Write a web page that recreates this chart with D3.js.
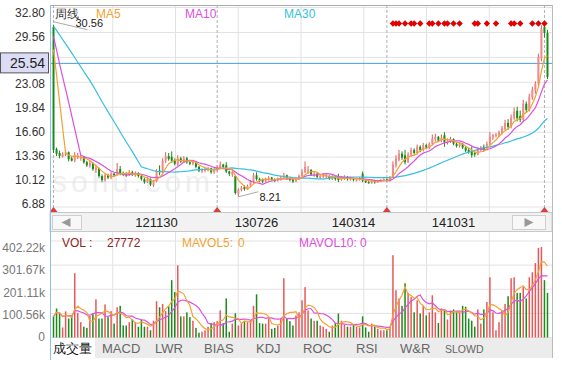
<!DOCTYPE html>
<html>
<head>
<meta charset="utf-8">
<script src="https://cdn.jsdelivr.net/npm/d3@7"></script>
<style>
  body { margin: 0; background: #fff; }
  svg text { font-family: Arial, "Liberation Sans", sans-serif; }
</style>
</head>
<body>
<svg id="chart" width="562" height="365"></svg>
<script>
/* 周线 K 线 + 成交量（MA5 / MA10 / MA30，MAVOL5 / MAVOL10） */

// 可见区之前的收盘价（只用来算均线）
const preClose = [30.8, 31.2, 31.6, 31.0, 30.4, 30.9, 31.5, 32.0, 31.4, 30.7,
  30.2, 30.6, 31.1, 31.8, 32.3, 31.7, 31.0, 30.5, 30.1, 30.6,
  31.2, 31.5, 30.9, 30.3, 29.8, 30.2, 30.7, 31.0, 30.4];

const open = [30.30, 14.40, 13.90, 13.40, 13.70, 14.00, 13.20, 12.90, 13.40, 13.20,
  13.40, 12.70, 12.20, 12.60, 11.70, 11.90, 10.90, 10.40, 11.00, 10.70,
  11.20, 11.00, 11.80, 11.20, 11.10, 11.00, 11.40, 11.00, 11.30, 10.90,
  10.50, 10.10, 10.50, 9.70, 10.20, 11.60, 11.40, 12.90, 13.50, 13.40,
  12.90, 12.40, 13.20, 12.80, 13.20, 12.70, 12.50, 12.60, 12.10, 11.50,
  11.60, 11.70, 11.90, 11.40, 11.60, 11.90, 12.40, 12.30, 11.50, 11.10,
  10.90, 8.60, 9.10, 9.50, 9.20, 9.60, 10.20, 11.00, 10.50, 10.40,
  10.20, 10.40, 10.70, 10.40, 10.30, 10.50, 10.60, 11.00, 10.60, 10.40,
  10.20, 10.50, 10.90, 11.40, 11.50, 11.70, 11.00, 11.20, 10.70, 10.80,
  10.80, 10.90, 10.50, 10.80, 10.80, 10.40, 10.60, 10.80, 10.40, 10.60,
  10.30, 10.40, 11.20, 10.30, 10.10, 10.00, 10.30, 10.10, 10.20, 10.30,
  10.50, 10.30, 10.80, 12.30, 13.00, 13.80, 13.60, 12.70, 13.70, 14.30,
  13.90, 14.70, 14.30, 14.90, 14.60, 15.10, 15.70, 16.00, 15.50, 16.20,
  15.20, 15.40, 15.70, 15.10, 14.80, 15.10, 14.60, 14.30, 14.20, 13.90,
  13.70, 14.30, 14.70, 14.30, 15.00, 15.90, 16.10, 16.20, 16.50, 17.00,
  17.80, 17.30, 18.40, 19.40, 18.70, 18.20, 20.30, 19.50, 21.10, 22.00,
  22.90, 26.20, 30.30, 29.50];

const high = [30.56, 14.60, 14.20, 14.00, 14.30, 14.10, 13.50, 14.00, 13.90, 13.60,
  13.50, 12.90, 12.90, 12.70, 12.40, 12.00, 11.10, 11.30, 11.20, 11.50,
  11.30, 12.60, 12.20, 11.50, 11.40, 11.70, 11.60, 11.50, 11.40, 11.10,
  10.70, 10.80, 10.60, 10.40, 11.80, 12.30, 13.20, 14.00, 13.90, 14.10,
  13.20, 13.60, 13.40, 13.50, 13.40, 13.00, 13.00, 12.70, 12.20, 11.90,
  12.00, 12.10, 12.00, 11.90, 12.30, 12.80, 12.50, 12.70, 11.60, 11.60,
  11.00, 9.30, 9.60, 9.70, 9.80, 10.40, 11.30, 11.40, 10.70, 10.60,
  10.70, 10.90, 10.80, 10.60, 10.70, 10.90, 11.30, 11.10, 10.80, 10.60,
  10.70, 11.10, 11.80, 12.80, 12.20, 11.80, 11.50, 11.30, 11.10, 11.20,
  11.10, 11.00, 11.00, 10.90, 11.20, 10.90, 11.00, 10.90, 10.80, 10.70,
  10.70, 10.80, 11.50, 10.50, 10.30, 10.50, 10.40, 10.40, 10.50, 10.60,
  10.60, 10.90, 12.80, 13.60, 14.30, 14.10, 14.30, 14.00, 14.60, 14.50,
  15.00, 14.90, 15.20, 15.10, 15.30, 16.30, 16.40, 16.10, 16.30, 16.60,
  15.80, 16.00, 15.80, 15.30, 15.30, 15.20, 14.80, 14.60, 14.70, 14.10,
  14.60, 14.80, 15.00, 15.40, 16.60, 16.40, 16.50, 16.80, 17.40, 18.20,
  18.30, 18.90, 19.80, 19.90, 19.40, 20.80, 20.60, 21.60, 22.50, 23.20,
  26.80, 30.50, 30.40, 29.90];

const low = [13.90, 13.50, 13.20, 13.30, 13.50, 12.80, 12.80, 12.70, 13.10, 12.90,
  12.50, 12.10, 12.00, 11.60, 11.30, 10.70, 10.10, 10.20, 10.50, 10.50,
  10.80, 10.90, 11.00, 10.90, 10.80, 10.90, 10.90, 10.80, 10.70, 10.30,
  9.90, 10.00, 9.60, 9.50, 10.10, 11.00, 11.30, 12.60, 12.90, 12.60,
  12.30, 12.20, 12.60, 12.60, 12.50, 12.30, 12.30, 11.90, 11.40, 11.30,
  11.40, 11.50, 11.20, 11.20, 11.50, 11.80, 11.90, 11.30, 10.90, 10.80,
  8.50, 8.21, 8.90, 9.00, 9.10, 9.50, 10.00, 10.30, 10.10, 10.00,
  10.10, 10.30, 10.30, 10.10, 10.20, 10.30, 10.50, 10.40, 10.20, 10.00,
  10.10, 10.40, 10.80, 11.30, 11.20, 10.90, 10.80, 10.60, 10.50, 10.60,
  10.50, 10.40, 10.40, 10.30, 10.10, 10.30, 10.40, 10.30, 10.30, 10.20,
  10.20, 10.30, 10.10, 10.00, 9.90, 9.90, 9.90, 10.00, 10.10, 10.20,
  10.20, 10.20, 10.70, 12.00, 12.80, 13.00, 12.40, 12.60, 13.40, 13.70,
  13.70, 14.00, 14.10, 14.40, 14.40, 14.90, 15.40, 15.30, 15.30, 14.70,
  15.00, 15.20, 14.90, 14.60, 14.60, 14.40, 14.00, 13.80, 13.30, 13.40,
  13.60, 14.10, 14.10, 14.20, 14.90, 15.60, 15.90, 16.00, 16.30, 16.80,
  16.90, 17.10, 18.20, 18.00, 17.90, 18.00, 19.10, 19.30, 20.80, 21.60,
  22.70, 25.80, 28.90, 23.50];

const close = [14.30, 13.80, 13.50, 13.80, 14.00, 13.10, 12.90, 13.60, 13.60, 13.40,
  12.70, 12.30, 12.60, 11.80, 12.00, 10.90, 10.40, 11.00, 10.70, 11.20,
  11.00, 11.80, 11.20, 11.10, 11.00, 11.40, 11.10, 11.30, 10.90, 10.50,
  10.10, 10.50, 9.80, 10.20, 11.60, 11.40, 12.90, 13.50, 13.10, 12.90,
  12.50, 13.20, 12.80, 13.20, 12.70, 12.50, 12.80, 12.10, 11.60, 11.70,
  11.80, 11.90, 11.40, 11.70, 12.00, 12.40, 12.10, 11.50, 11.20, 11.40,
  8.70, 9.10, 9.40, 9.20, 9.60, 10.20, 11.00, 10.50, 10.30, 10.20,
  10.50, 10.70, 10.40, 10.30, 10.60, 10.70, 11.00, 10.60, 10.40, 10.20,
  10.60, 10.90, 11.50, 12.10, 11.70, 11.10, 11.20, 10.80, 10.90, 11.00,
  10.90, 10.60, 10.80, 10.50, 10.40, 10.70, 10.80, 10.50, 10.60, 10.40,
  10.50, 10.60, 10.30, 10.10, 10.00, 10.30, 10.10, 10.30, 10.40, 10.50,
  10.30, 10.80, 12.40, 13.20, 13.80, 13.30, 12.70, 13.70, 14.30, 13.90,
  14.70, 14.30, 14.90, 14.60, 15.10, 15.80, 16.00, 15.50, 15.90, 15.30,
  15.50, 15.70, 15.10, 14.80, 15.10, 14.60, 14.20, 14.00, 13.60, 13.70,
  14.40, 14.60, 14.30, 15.10, 16.00, 16.20, 16.30, 16.60, 17.10, 17.80,
  17.30, 18.50, 19.30, 18.40, 18.20, 20.30, 19.50, 21.20, 22.10, 22.90,
  26.40, 30.10, 29.50, 23.80];

// 成交量（千股）
const volume = [88, 121, 100, 42, 109, 79, 90, 268, 103, 64,
  45, 40, 90, 100, 159, 79, 79, 138, 85, 110,
  58, 126, 132, 50, 50, 64, 75, 64, 45, 75,
  45, 45, 30, 70, 151, 126, 140, 110, 130, 239,
  189, 301, 88, 88, 105, 85, 70, 40, 20, 24,
  30, 45, 60, 64, 68, 113, 60, 163, 24, 58,
  101, 50, 58, 70, 64, 70, 132, 180, 60, 58,
  58, 79, 36, 40, 50, 80, 247, 79, 68, 50,
  92, 105, 155, 210, 113, 79, 70, 70, 50, 45,
  36, 24, 50, 60, 100, 70, 52, 45, 45, 52,
  45, 42, 88, 42, 24, 58, 45, 36, 30, 30,
  30, 45, 343, 197, 163, 132, 226, 186, 168, 105,
  155, 100, 132, 92, 105, 176, 105, 60, 121, 117,
  75, 112, 117, 109, 105, 132, 128, 79, 70, 45,
  117, 58, 117, 148, 251, 105, 30, 64, 113, 140,
  172, 247, 251, 186, 186, 210, 163, 251, 272, 310,
  373, 377, 239, 186];

const priceTicks = [32.80, 29.56, 26.32, 23.08, 19.84, 16.60, 13.36, 10.12, 6.88];
const volTicks = [0, 100.56, 201.11, 301.67, 402.22];
const volTickLabels = ["0", "100.56k", "201.11k", "301.67k", "402.22k"];
const xTickIdx = [34, 67, 99, 132];
const xTickLabels = ["121130", "130726", "140314", "141031"];
const eventIdx = [0, 54, 110, 162];           // 除权标记（虚线 + 红三角）
const noteIdx = [112, 113, 114, 116, 118, 119, 121, 124, 125, 127, 129, 130, 132, 134,
  139, 140, 143, 146, 151, 152, 154, 158, 160, 162]; // 顶部红色菱形
const crossPrice = 25.54;
const volLabelValue = "27772";
const tabs = ["成交量", "MACD", "LWR", "BIAS", "KDJ", "ROC", "RSI", "W&R", "SLOWD"];

(function () {
  const svg = d3.select("#chart");
  const L = 50, R = 552;
  const N = close.length;

  const C_UP = "#e8585a", C_DN = "#1b8a1b";
  const C_MA5 = "#f3a232", C_MA10 = "#dd4fe0", C_MA30 = "#35bfe0";
  const GRID = "#e2e2e2";

  const x = d3.scaleBand().domain(d3.range(N)).range([52, 549]);
  const cx = i => x(i) + x.bandwidth() / 2;
  const y = d3.scaleLinear().domain([6.88, 32.80]).range([207, 7.5]);
  const yLab = d3.scaleLinear().domain([6.88, 32.80]).range([204, 12.7]);
  const yv = d3.scaleLinear().domain([0, 402.22]).range([337.5, 241]);
  const yvLab = d3.scaleLinear().domain([0, 402.22]).range([337, 248]);
  const gridX = d3.range(1, 8).map(k => L + (R - L) * k / 8);

  const up = i => close[i] >= open[i];

  // 均线（含可见区之前的数据）
  function movAvg(src, pre, n) {
    const all = pre.concat(src);
    return src.map((_, i) => {
      const end = pre.length + i + 1;
      return d3.mean(all.slice(Math.max(0, end - n), end));
    });
  }
  const ma5 = movAvg(close, preClose, 5);
  const ma10 = movAvg(close, preClose, 10);
  const ma30 = movAvg(close, preClose, 30);
  const mav5 = movAvg(volume, [], 5);
  const mav10 = movAvg(volume, [], 10);

  /* ---------- 主图 ---------- */
  const main = svg.append("g");

  // 水印
  main.append("text").attr("x", 52).attr("y", 192)
    .attr("font-size", 30).attr("letter-spacing", 4).attr("fill", "#efefef")
    .text("sohu.com");

  main.selectAll("line.hg").data(priceTicks).join("line")
    .attr("x1", L).attr("x2", R).attr("y1", d => y(d)).attr("y2", d => y(d))
    .attr("stroke", GRID);
  main.selectAll("line.vg").data(gridX).join("line")
    .attr("x1", d => d).attr("x2", d => d).attr("y1", 5).attr("y2", 212)
    .attr("stroke", GRID);

  main.selectAll("line.ev").data(eventIdx).join("line")
    .attr("x1", d => cx(d)).attr("x2", d => cx(d)).attr("y1", 5).attr("y2", 208)
    .attr("stroke", "#b0b0b0").attr("stroke-dasharray", "3,2");

  // 价格轴（被光标价位框挡住的刻度不写）
  const boxY = y(crossPrice);
  svg.append("g").selectAll("text")
    .data(priceTicks.filter(d => Math.abs(yLab(d) - boxY) > 11)).join("text")
    .attr("x", 45).attr("y", d => yLab(d)).attr("text-anchor", "end")
    .attr("dominant-baseline", "central").attr("font-size", 12).attr("fill", "#333")
    .text(d => d.toFixed(2));

  // 十字光标价位
  main.append("line").attr("x1", L).attr("x2", R)
    .attr("y1", boxY).attr("y2", boxY)
    .attr("stroke", "#4d9ddb");
  svg.append("rect").attr("x", 0.5).attr("y", boxY - 10.5)
    .attr("width", 48).attr("height", 20)
    .attr("fill", "#dcdcf6").attr("stroke", "#555");
  svg.append("text").attr("x", 45).attr("y", boxY)
    .attr("text-anchor", "end").attr("dominant-baseline", "central")
    .attr("font-family", "'Liberation Serif', 'Times New Roman', serif")
    .attr("font-size", 14).attr("fill", "#222").text(crossPrice.toFixed(2));

  // K 线
  const candles = main.append("g").selectAll("g").data(d3.range(N)).join("g");
  candles.append("line")
    .attr("x1", i => cx(i)).attr("x2", i => cx(i))
    .attr("y1", i => y(high[i])).attr("y2", i => y(low[i]))
    .attr("stroke", i => up(i) ? C_UP : C_DN).attr("stroke-width", 1);
  candles.append("rect")
    .attr("x", i => cx(i) - 1).attr("width", 2)
    .attr("y", i => y(Math.max(open[i], close[i])))
    .attr("height", i => Math.max(1, Math.abs(y(open[i]) - y(close[i]))))
    .attr("fill", i => up(i) ? "#f08a8a" : C_DN);

  const line = d3.line().x((d, i) => cx(i)).y(d => y(d));
  [[ma30, C_MA30], [ma10, C_MA10], [ma5, C_MA5]].forEach(([s, c]) => {
    main.append("path").datum(s).attr("d", line)
      .attr("fill", "none").attr("stroke", c).attr("stroke-width", 1.2);
  });

  // 最高 / 最低价标注
  const hi = d3.maxIndex(high), lo = d3.minIndex(low);
  main.append("line").attr("x1", cx(hi)).attr("y1", y(high[hi]) - 3)
    .attr("x2", cx(hi) + 34).attr("y2", y(high[hi]) + 5).attr("stroke", "#aaa");
  main.append("text").attr("x", cx(hi) + 22).attr("y", y(high[hi]) + 2)
    .attr("font-size", 11).attr("fill", "#222").text(high[hi].toFixed(2));
  main.append("line").attr("x1", cx(lo)).attr("y1", y(low[lo]))
    .attr("x2", cx(lo) + 20).attr("y2", y(low[lo]) - 5).attr("stroke", "#aaa");
  main.append("text").attr("x", cx(lo) + 21).attr("y", y(low[lo]) + 4)
    .attr("font-size", 11).attr("fill", "#222").text(low[lo].toFixed(2));

  // 顶部菱形
  main.append("g").selectAll("path").data(noteIdx).join("path")
    .attr("d", i => `M${cx(i)},20.3L${cx(i) + 3.2},23.5L${cx(i)},26.7L${cx(i) - 3.2},23.5Z`)
    .attr("fill", "#e00000");

  // 红三角
  main.append("g").selectAll("path").data(eventIdx).join("path")
    .attr("d", i => `M${cx(i) - 4},212L${cx(i)},207L${cx(i) + 4},212Z`)
    .attr("fill", "#e23b3b");

  // 图例
  const leg = [["周线", "#333", 55], ["MA5", C_MA5, 96], ["MA10", C_MA10, 185], ["MA30", C_MA30, 284]];
  main.append("g").selectAll("text").data(leg).join("text")
    .attr("x", d => d[2]).attr("y", 14).attr("dominant-baseline", "central")
    .attr("font-size", 12).attr("fill", d => d[1])
    .attr("font-family", d => d[0] === "周线" ? "'Noto Sans CJK SC', sans-serif" : null)
    .text(d => d[0]);

  /* ---------- 时间轴条 ---------- */
  svg.append("rect").attr("x", L).attr("y", 212.5).attr("width", R - L).attr("height", 19)
    .attr("fill", "#f2f2f2").attr("stroke", "#c8c8c8");
  [[52, 29, -1], [512, 33, 1]].forEach(([bx, bw, dir]) => {
    svg.append("rect").attr("x", bx + 0.5).attr("y", 215.5).attr("width", bw).attr("height", 14)
      .attr("fill", "#f8f8f8").attr("stroke", "#cfcfcf");
    const mx = bx + bw / 2;
    svg.append("path")
      .attr("d", `M${mx + dir * 5},222.5L${mx - dir * 4},218L${mx - dir * 4},227Z`)
      .attr("fill", "#999");
  });
  svg.append("g").selectAll("text").data(xTickIdx).join("text")
    .attr("x", i => cx(i)).attr("y", 222.5).attr("text-anchor", "middle")
    .attr("dominant-baseline", "central").attr("font-size", 13).attr("fill", "#222")
    .text((d, k) => xTickLabels[k]);

  /* ---------- 成交量 ---------- */
  const vol = svg.append("g");
  vol.selectAll("line.hg").data(volTicks).join("line")
    .attr("x1", L).attr("x2", R).attr("y1", d => yv(d)).attr("y2", d => yv(d))
    .attr("stroke", GRID);
  vol.selectAll("line.vg").data(gridX).join("line")
    .attr("x1", d => d).attr("x2", d => d).attr("y1", 232).attr("y2", 338)
    .attr("stroke", GRID);
  svg.append("g").selectAll("text").data(volTicks).join("text")
    .attr("x", 45).attr("y", d => yvLab(d)).attr("text-anchor", "end")
    .attr("dominant-baseline", "central").attr("font-size", 12).attr("fill", "#777")
    .text((d, k) => volTickLabels[k]);

  vol.append("g").selectAll("rect").data(volume).join("rect")
    .attr("x", (d, i) => cx(i) - 0.75).attr("width", 1.5)
    .attr("y", d => yv(d)).attr("height", d => yv(0) - yv(d))
    .attr("fill", (d, i) => up(i) ? C_UP : C_DN);

  const vline = d3.line().x((d, i) => cx(i)).y(d => yv(d));
  [[mav10, C_MA10], [mav5, C_MA5]].forEach(([s, c]) => {
    vol.append("path").datum(s).attr("d", vline)
      .attr("fill", "none").attr("stroke", c).attr("stroke-width", 1.2);
  });

  const vleg = [["VOL :", "#8e2424", 62], [volLabelValue, "#8e2424", 107],
    ["MAVOL5:", C_MA5, 182], ["0", C_MA5, 238], ["MAVOL10:", C_MA10, 299], ["0", C_MA10, 360]];
  vol.append("g").selectAll("text").data(vleg).join("text")
    .attr("x", d => d[2]).attr("y", 243).attr("dominant-baseline", "central")
    .attr("font-size", 12).attr("fill", d => d[1]).text(d => d[0]);

  /* ---------- 指标标签栏 ---------- */
  svg.append("rect").attr("x", L).attr("y", 338).attr("width", R - L).attr("height", 20)
    .attr("fill", "#ececec");
  svg.append("rect").attr("x", L).attr("y", 338).attr("width", 45).attr("height", 20)
    .attr("fill", "#fff");
  const tabX = [53, 102, 155, 204, 256, 303, 356, 400, 445];
  svg.append("g").selectAll("text").data(tabs).join("text")
    .attr("x", (d, k) => tabX[k]).attr("y", 348.5).attr("dominant-baseline", "central")
    .attr("font-size", (d, k) => d === "SLOWD" ? 10.5 : 13)
    .attr("font-family", (d, k) => k === 0 ? "'Noto Sans CJK SC', sans-serif" : null)
    .attr("fill", (d, k) => k === 0 ? "#111" : "#666")
    .text(d => d);

  /* ---------- 边框 ---------- */
  svg.append("line").attr("x1", L).attr("x2", R).attr("y1", 5.5).attr("y2", 5.5).attr("stroke", "#aaa");
  svg.append("line").attr("x1", R + 0.5).attr("x2", R + 0.5).attr("y1", 5).attr("y2", 358).attr("stroke", "#bbb");
  svg.append("line").attr("x1", L + 0.5).attr("x2", L + 0.5).attr("y1", 5).attr("y2", 360).attr("stroke", "#8fc2e8");
})();
</script>
</body>
</html>
